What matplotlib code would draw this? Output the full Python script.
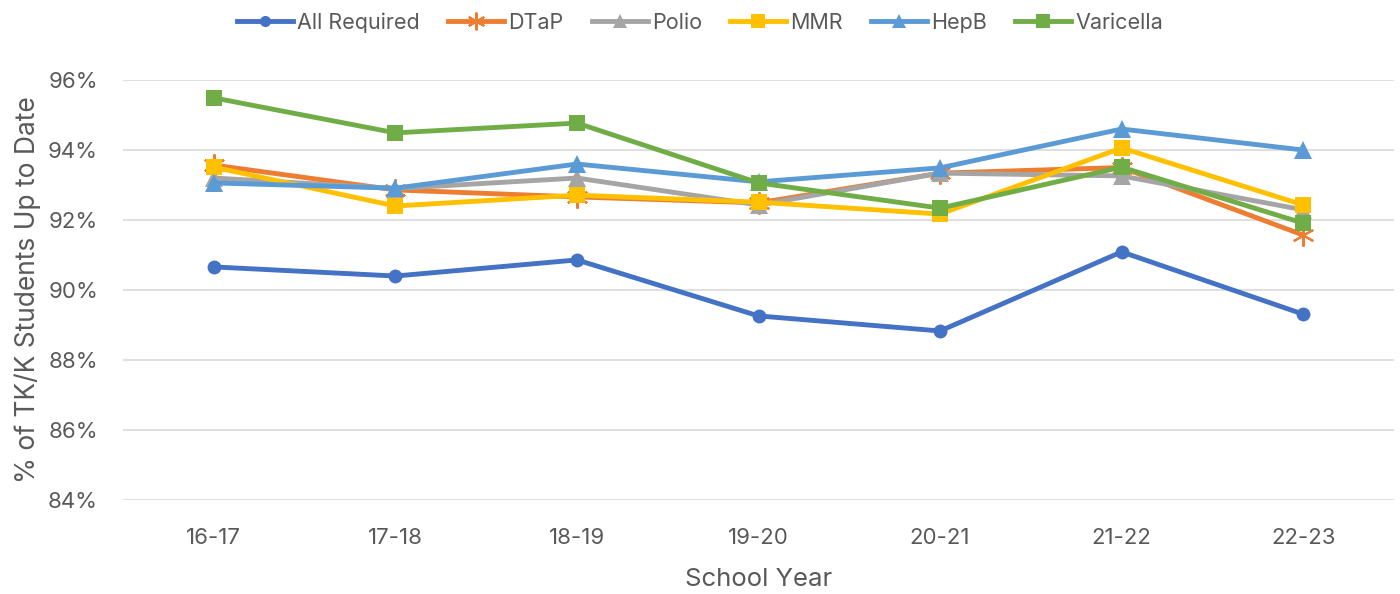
import matplotlib.pyplot as plt
from matplotlib.ticker import FuncFormatter

plt.rcParams['font.family'] = ['Inter', 'DejaVu Sans']

years = ["16-17", "17-18", "18-19", "19-20", "20-21", "21-22", "22-23"]
all_required = [90.66, 90.40, 90.86, 89.26, 88.83, 91.09, 89.31]
dtap = [93.57, 92.86, 92.66, 92.49, 93.34, 93.50, 91.57]
polio = [93.20, 92.90, 93.20, 92.43, 93.34, 93.26, 92.29]
mmr = [93.51, 92.40, 92.71, 92.51, 92.17, 94.06, 92.43]
hepb = [93.06, 92.91, 93.60, 93.09, 93.49, 94.60, 94.00]
varicella = [95.49, 94.49, 94.77, 93.06, 92.34, 93.51, 91.91]

text_color = "#595959"

fig = plt.figure(figsize=(14, 5.94), dpi=100)
ax = fig.add_axes([0.0879, 0.1582, 0.9078, 0.7071])

x = list(range(len(years)))
series = [
    ("All Required", all_required, "#4472C4", "o", 10),
    ("DTaP", dtap, "#ED7D31", (6, 2, 0), 16),
    ("Polio", polio, "#A5A5A5", "^", 13),
    ("MMR", mmr, "#FFC000", "s", 12),
    ("HepB", hepb, "#5B9BD5", "^", 13),
    ("Varicella", varicella, "#70AD47", "s", 12),
]
for name, vals, color, marker, ms in series:
    ax.plot(x, vals, color=color, lw=3.5, marker=marker, markersize=ms,
            markeredgewidth=1.5 if marker == (6, 2, 0) else 0,
            markeredgecolor=color, label=name)

ax.set_xlim(-0.5, len(years) - 0.5)
ax.set_ylim(84, 96)
ax.set_yticks([84, 86, 88, 90, 92, 94, 96])
ax.yaxis.set_major_formatter(FuncFormatter(lambda v, p: "%d%%" % v))
ax.set_xticks(x)
ax.set_xticklabels(years)
ax.grid(axis="y", color="#D9D9D9", lw=1.2)
ax.set_axisbelow(True)
for s in ax.spines.values():
    s.set_visible(False)
ax.xaxis.set_tick_params(length=0, colors=text_color, labelsize=16, pad=20)
ax.yaxis.set_tick_params(length=0, colors=text_color, labelsize=16, pad=18)

ax.set_xlabel("School Year", fontsize=18.5, color=text_color, va="center")
ax.set_ylabel("% of TK/K Students Up to Date", fontsize=19, color=text_color, va="center")
ax.xaxis.set_label_coords(0.5, -0.19)
ax.yaxis.set_label_coords(-0.0747, 0.5)

fig.legend(loc="center", bbox_to_anchor=(0.5, 0.962), ncol=6, frameon=False,
           fontsize=15.5, labelcolor=text_color, handlelength=2.6, handletextpad=0.2,
           columnspacing=1.3, markerscale=0.8)

fig.savefig("out.png", dpi=100)
